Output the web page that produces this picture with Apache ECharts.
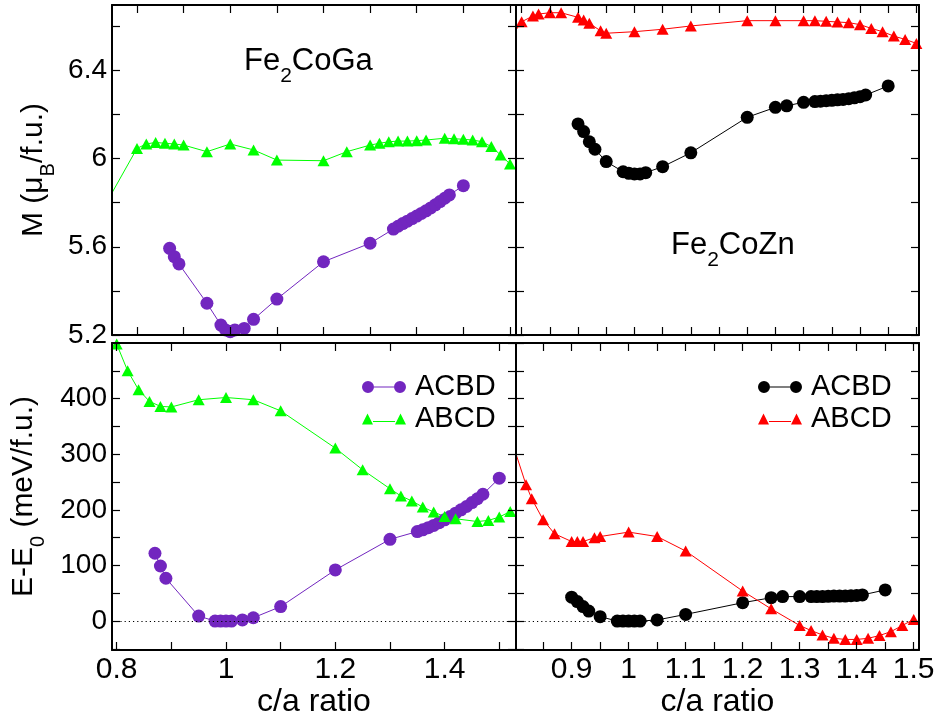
<!DOCTYPE html>
<html>
<head>
<meta charset="utf-8">
<script src="https://cdn.jsdelivr.net/npm/echarts@6.0.0/dist/echarts.min.js"></script>
<style>
html,body{margin:0;padding:0;background:#fff;}
#c{width:936px;height:719px;}
</style>
</head>
<body>
<div id="c"></div>
<script>
// ---------------- DATA ----------------
// Fe2CoGa, ACBD ordering
const gaAcbdCa = [0.87,0.88,0.89,0.95,0.98,0.99,1.00,1.01,1.03,1.05,1.10,1.20,1.30,1.35,1.36,1.37,1.38,1.39,1.40,1.41,1.42,1.43,1.44,1.45,1.46,1.47,1.50];
const gaAcbdM  = [5.593,5.555,5.522,5.344,5.245,5.223,5.215,5.223,5.230,5.271,5.363,5.532,5.616,5.680,5.693,5.705,5.716,5.728,5.739,5.751,5.763,5.776,5.790,5.805,5.820,5.835,5.877];
const gaAcbdE  = [122,99,77,9,0,0,0,0,2,6,26,92,147,161,164,168,172,177,182,188,194,200,206,213,220,228,257];
// Fe2CoGa, ABCD ordering
const gaAbcdCa = [0.70,0.80,0.82,0.84,0.86,0.88,0.90,0.95,1.00,1.05,1.10,1.20,1.25,1.30,1.32,1.34,1.36,1.38,1.40,1.42,1.46,1.48,1.50,1.52,1.54,1.56,1.58,1.60];
const gaAbcdM  = [5.67,6.046,6.066,6.073,6.069,6.066,6.061,6.031,6.066,6.039,5.993,5.990,6.031,6.061,6.069,6.076,6.079,6.079,6.081,6.084,6.092,6.090,6.087,6.084,6.076,6.054,6.016,5.975];
const gaAbcdE  = [700,498,450,416,395,386,385,398,402,398,378,311,272,238,225,216,205,196,188,184,179,181,187,197];
// Fe2CoZn, ACBD ordering
const znAcbdCa = [0.90,0.91,0.92,0.93,0.95,0.98,0.99,1.00,1.01,1.02,1.05,1.10,1.20,1.25,1.27,1.30,1.32,1.33,1.34,1.35,1.36,1.37,1.38,1.39,1.40,1.41,1.45];
const znAcbdM  = [6.157,6.122,6.076,6.042,5.986,5.940,5.933,5.930,5.930,5.936,5.963,6.026,6.187,6.232,6.239,6.255,6.258,6.260,6.262,6.264,6.266,6.268,6.271,6.275,6.280,6.288,6.329];
const znAcbdE  = [43,35,26,18,8,0,0,0,0,0,2,12,33,42,44,44,44,44,44,44.5,45,45,45,45.5,46,47,56];
// Fe2CoZn, ABCD ordering
const znAbcdCa = [0.70,0.80,0.82,0.83,0.85,0.87,0.90,0.91,0.92,0.94,0.95,1.00,1.05,1.10,1.20,1.25,1.30,1.32,1.34,1.36,1.38,1.40,1.42,1.44,1.46,1.48,1.50];
const znAbcdM  = [6.25,6.620,6.646,6.655,6.661,6.661,6.640,6.628,6.613,6.579,6.568,6.575,6.586,6.601,6.625,6.625,6.625,6.625,6.622,6.619,6.616,6.607,6.590,6.575,6.555,6.540,6.522];
const znAbcdE  = [700,308,245,220,182,157,143,143,143,150,152,160,152,126,54,22,-8,-17,-25,-31,-33,-33,-31,-26,-19,-8,3];

// Tick marks and tick labels
const xTicksGa     = [0.8,0.9,1.0,1.1,1.2,1.3,1.4,1.5,1.6];
const xTicksBotGa  = [0.8,0.9,1.0,1.1,1.2,1.3,1.4,1.5];
const xLabelsGa    = [0.8,1,1.2,1.4];
const xTicksZnTop  = [0.8,0.85,0.9,0.95,1.0,1.05,1.1,1.15,1.2,1.25,1.3,1.35,1.4,1.45,1.5];
const xTicksZnBot  = [0.85,0.9,0.95,1.0,1.05,1.1,1.15,1.2,1.25,1.3,1.35,1.4,1.45,1.5];
const xLabelsZn    = [0.9,1,1.1,1.2,1.3,1.4,1.5];
const yTicksM      = [5.2,5.4,5.6,5.8,6.0,6.2,6.4,6.6];
const yLabelsM     = [5.2,5.6,6,6.4];
const yTicksE      = [-50,0,50,100,150,200,250,300,350,400,450,500];
const yLabelsE     = [0,100,200,300,400];

// ---------------- CHART ----------------
const FONT = '"Liberation Sans", Arial, Helvetica, sans-serif';
const PURPLE = '#7226bf', GREEN = '#00ff00', RED = '#ff0000', BLACK = '#000000';

function pairs(xs, ys) { return ys.map((y, i) => [xs[i], y]); }

const gridBoxes = [
  {left:112, top:5,   width:404, height:330},
  {left:516, top:5,   width:403, height:330},
  {left:112, top:343, width:404, height:307},
  {left:516, top:343, width:403, height:307}
];
const xRanges = [[0.7464,1.6129],[0.790,1.5046],[0.7914,1.5306],[0.8024,1.5093]];
const yRanges = [[5.2,6.696],[5.2,6.696],[-52,500],[-52,500]];

const richSub = (fs) => ({
  n: {fontSize: fs, lineHeight: fs, verticalAlign: 'top', fontFamily: FONT, color: '#000', fontWeight: 'normal'},
  s: {fontSize: Math.round(fs*0.67), padding: [Math.round(fs*0.63),0,0,0], verticalAlign: 'bottom', fontFamily: FONT, color: '#000', fontWeight: 'normal'}
});

function mkAxis(kind, gi, pos, range, ticks, labels, name, nameGap) {
  const a = {
    type: 'value', gridIndex: gi, position: pos, min: range[0], max: range[1],
    axisLine: {show: true, onZero: false, lineStyle: {color: '#000', width: 2}},
    axisTick: {show: true, inside: true, length: 8, customValues: ticks, lineStyle: {color: '#000', width: 1.2}},
    axisLabel: {show: false},
    splitLine: {show: false}, splitArea: {show: false}, minorTick: {show: false},
    axisPointer: {show: false}, silent: true, z: 5
  };
  if (labels) {
    a.axisLabel = {show: true, customValues: labels, color: '#000', fontFamily: FONT,
      fontSize: kind === 'x' ? 30 : 28, margin: kind === 'x' ? 5 : 5};
  }
  if (name) {
    a.name = name; a.nameLocation = 'middle'; a.nameGap = nameGap;
    if (kind === 'x') {
      a.nameTextStyle = {color: '#000', fontFamily: FONT, fontSize: 32};
    } else {
      a.nameTextStyle = {color: '#000', fontFamily: FONT, fontSize: 30, rich: richSub(30)};
    }
  }
  return a;
}

const xAxes = [], yAxes = [];
// grid 0: top-left (Fe2CoGa, M)
xAxes.push(mkAxis('x',0,'bottom',xRanges[0],xTicksGa,null));
xAxes.push(mkAxis('x',0,'top',xRanges[0],xTicksGa,null));
yAxes.push(mkAxis('y',0,'left',yRanges[0],yTicksM,yLabelsM,'{n|M (μ}{s|B}{n|/f.u.)}',54));
yAxes.push(mkAxis('y',0,'right',yRanges[0],yTicksM,null));
// grid 1: top-right (Fe2CoZn, M)
xAxes.push(mkAxis('x',1,'bottom',xRanges[1],xTicksZnTop,null));
xAxes.push(mkAxis('x',1,'top',xRanges[1],xTicksZnTop,null));
yAxes.push(mkAxis('y',1,'left',yRanges[1],yTicksM,null));
yAxes.push(mkAxis('y',1,'right',yRanges[1],yTicksM,null));
// grid 2: bottom-left (Fe2CoGa, E)
xAxes.push(mkAxis('x',2,'bottom',xRanges[2],xTicksBotGa,xLabelsGa,'c/a ratio',30));
xAxes.push(mkAxis('x',2,'top',xRanges[2],xTicksBotGa,null));
yAxes.push(mkAxis('y',2,'left',yRanges[2],yTicksE,yLabelsE,'{n|E-E}{s|0}{n| (meV/f.u.)}',64));
yAxes.push(mkAxis('y',2,'right',yRanges[2],yTicksE,null));
// grid 3: bottom-right (Fe2CoZn, E)
xAxes.push(mkAxis('x',3,'bottom',xRanges[3],xTicksZnBot,xLabelsZn,'c/a ratio',30));
xAxes.push(mkAxis('x',3,'top',xRanges[3],xTicksZnBot,null));
yAxes.push(mkAxis('y',3,'left',yRanges[3],yTicksE,null));
yAxes.push(mkAxis('y',3,'right',yRanges[3],yTicksE,null));

function lineSeries(name, gi, data, color, sym, size, extra) {
  return Object.assign({
    type: 'line', name: name, xAxisIndex: 2*gi, yAxisIndex: 2*gi, data: data,
    symbol: sym, symbolSize: size, showSymbol: true, showAllSymbol: true,
    lineStyle: {color: color, width: 1}, itemStyle: {color: color, borderWidth: 0},
    emphasis: {disabled: true}, animation: false, clip: true, z: 3
  }, extra || {});
}
const zeroLine = {
  markLine: {silent: true, symbol: 'none', animation: false, label: {show: false},
    lineStyle: {type: [1.2, 3], color: '#000', width: 1}, data: [{yAxis: 0}]}
};

const TRI = [12, 11], CIRC = 13;
const series = [
  lineSeries('Ga ACBD M', 0, pairs(gaAcbdCa, gaAcbdM), PURPLE, 'circle', CIRC),
  lineSeries('Ga ABCD M', 0, pairs(gaAbcdCa, gaAbcdM), GREEN, 'triangle', TRI),
  lineSeries('Zn ACBD M', 1, pairs(znAcbdCa, znAcbdM), BLACK, 'circle', CIRC),
  lineSeries('Zn ABCD M', 1, pairs(znAbcdCa, znAbcdM), RED, 'triangle', TRI),
  lineSeries('ACBD', 2, pairs(gaAcbdCa, gaAcbdE), PURPLE, 'circle', CIRC, zeroLine),
  lineSeries('ABCD', 2, pairs(gaAbcdCa, gaAbcdE), GREEN, 'triangle', TRI),
  lineSeries('ACBD ', 3, pairs(znAcbdCa, znAcbdE), BLACK, 'circle', CIRC, zeroLine),
  lineSeries('ABCD ', 3, pairs(znAbcdCa, znAbcdE), RED, 'triangle', TRI)
];

const circIcon = 'path://M0,6A6,6,0,1,1,12,6A6,6,0,1,1,0,6Z M32,6A6,6,0,1,1,44,6A6,6,0,1,1,32,6Z M12,5.5L32,5.5L32,6.5L12,6.5Z';
const triIcon  = 'path://M0,11L5.5,0L11,11Z M33,11L38.5,0L44,11Z M11,7.5L33,7.5L33,8.5L11,8.5Z';

function mkLegend(left, names) {
  return {
    orient: 'vertical', left: left, top: 371, padding: 0, itemGap: 0,
    itemWidth: 44, itemHeight: 12, selectedMode: false,
    textStyle: {fontSize: 29, color: '#000', fontFamily: FONT, lineHeight: 32, padding: [0,0,0,4]},
    formatter: (n) => n.trim(),
    data: [{name: names[0], icon: circIcon}, {name: names[1], icon: triIcon}]
  };
}

const option = {
  backgroundColor: '#fff',
  animation: false,
  textStyle: {fontFamily: FONT},
  grid: gridBoxes.map(g => Object.assign({show: false, containLabel: false, outerBoundsMode: 'none'}, g)),
  xAxis: xAxes,
  yAxis: yAxes,
  title: [
    {text: '{n|Fe}{s|2}{n|CoGa}', left: 244, top: 46, padding: 0, textStyle: {fontWeight: 'normal', rich: richSub(31)}},
    {text: '{n|Fe}{s|2}{n|CoZn}', left: 671, top: 230, padding: 0, textStyle: {fontWeight: 'normal', rich: richSub(31)}}
  ],
  legend: [mkLegend(362, ['ACBD','ABCD']), mkLegend(758, ['ACBD ','ABCD '])],
  series: series
};
const chart = echarts.init(document.getElementById('c'), null, {renderer: 'canvas'});
chart.setOption(option);
</script>
</body>
</html>
